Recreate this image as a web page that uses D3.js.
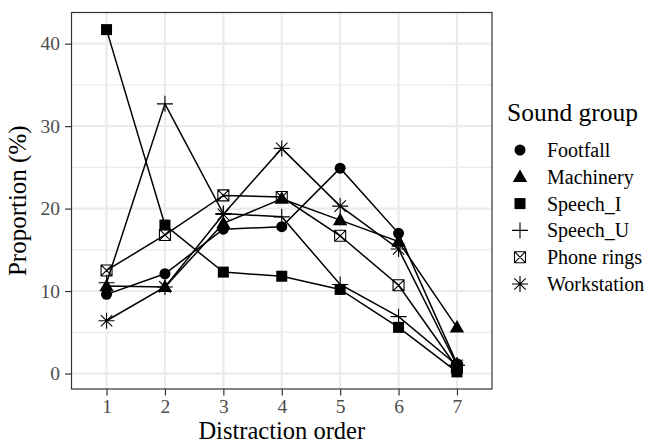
<!DOCTYPE html>
<html>
<head>
<meta charset="utf-8">
<script src="https://cdn.jsdelivr.net/npm/d3@7"></script>
<style>
  body { margin: 0; background: #fff; }
  text { font-family: "Liberation Serif", "Times New Roman", serif; }
</style>
</head>
<body>
<div id="chart"></div>
<script>
// distraction order (x) and the proportion (%) of each sound group
const orders = [1, 2, 3, 4, 5, 6, 7];
const groups = ["Footfall", "Machinery", "Speech_I", "Speech_U", "Phone rings", "Workstation"];
const footfall    = [9.6, 12.1, 17.5, 17.8, 24.9, 17.0, 1.2];
const machinery   = [10.6, 10.5, 18.2, 21.2, 18.6, 16.0, 5.6];
const speechI     = [41.7, 18.0, 12.3, 11.8, 10.2, 5.6, 0.2];
const speechU     = [11.0, 32.7, 19.4, 19.0, 10.8, 6.9, 1.0];
const phoneRings  = [12.5, 16.8, 21.6, 21.4, 16.7, 10.7, 0.7];
const workstation = [6.4, 10.5, 19.3, 27.3, 20.3, 15.1, 1.0];
const yTicks = [0, 10, 20, 30, 40];

const values = [footfall, machinery, speechI, speechU, phoneRings, workstation];
const series = groups.map((g, i) => ({
    name: g,
    points: orders.map((o, j) => ({ x: o, y: values[i][j] }))
}));

const width = 650, height = 444;
const margin = { top: 12.5, right: 158, bottom: 55, left: 71.5 };

const svg = d3.select("#chart").append("svg")
    .attr("width", width)
    .attr("height", height);

const x = d3.scalePoint()
    .domain(orders)
    .range([margin.left, width - margin.right])
    .padding(0.6);

// ggplot-like 5% expansion of the data range
const all = values.flat();
const lo = d3.min(all), hi = d3.max(all), pad = (hi - lo) * 0.05;
const y = d3.scaleLinear()
    .domain([lo - pad, hi + pad])
    .range([height - margin.bottom, margin.top]);

const grid = svg.append("g");
// minor grid
grid.selectAll(".minor")
    .data([5, 15, 25, 35])
    .join("line")
    .attr("x1", margin.left).attr("x2", width - margin.right)
    .attr("y1", d => y(d)).attr("y2", d => y(d))
    .attr("stroke", "#EBEBEB").attr("stroke-width", 1.2);
grid.selectAll(".majorY")
    .data(yTicks)
    .join("line")
    .attr("x1", margin.left).attr("x2", width - margin.right)
    .attr("y1", d => y(d)).attr("y2", d => y(d))
    .attr("stroke", "#EBEBEB").attr("stroke-width", 2.2);
grid.selectAll(".majorX")
    .data(orders)
    .join("line")
    .attr("x1", d => x(d)).attr("x2", d => x(d))
    .attr("y1", margin.top).attr("y2", height - margin.bottom)
    .attr("stroke", "#EBEBEB").attr("stroke-width", 2.2);

// axes
const xAxis = g => g
    .attr("transform", `translate(0,${height - margin.bottom})`)
    .call(d3.axisBottom(x).tickSize(6.4).tickPadding(3.5))
    .call(g => g.select(".domain").remove());
const yAxis = g => g
    .attr("transform", `translate(${margin.left},0)`)
    .call(d3.axisLeft(y).tickValues(yTicks).tickSize(6.4).tickPadding(5))
    .call(g => g.select(".domain").remove());

svg.append("g").call(xAxis);
svg.append("g").call(yAxis);
svg.selectAll(".tick line").attr("stroke", "#333333").attr("stroke-width", 1.2);
svg.selectAll(".tick text")
    .attr("fill", "#4D4D4D")
    .style("font-family", "'Liberation Serif', serif")
    .style("font-size", "19.5px");

// shapes
const sq = 5.5;
const shapeFns = {
    "Footfall": g => g.append("circle").attr("r", 5.5).attr("fill", "black"),
    "Machinery": g => g.append("path").attr("d", d3.symbol(d3.symbolTriangle, 90)()).attr("fill", "black").attr("transform", "translate(0,1)"),
    "Speech_I": g => g.append("rect").attr("x", -sq).attr("y", -sq).attr("width", 2 * sq).attr("height", 2 * sq).attr("fill", "black"),
    "Speech_U": g => g.append("path").attr("d", "M-8,0H8M0,-8V8").attr("stroke", "black").attr("stroke-width", 1.1).attr("fill", "none"),
    "Phone rings": g => g.append("path")
        .attr("d", `M${-sq},${-sq}H${sq}V${sq}H${-sq}ZM${-sq},${-sq}L${sq},${sq}M${sq},${-sq}L${-sq},${sq}`)
        .attr("stroke", "black").attr("stroke-width", 1.1).attr("fill", "none"),
    "Workstation": g => g.append("path")
        .attr("d", "M-8,0H8M0,-8V8M-5.7,-5.7L5.7,5.7M5.7,-5.7L-5.7,5.7")
        .attr("stroke", "black").attr("stroke-width", 1.1).attr("fill", "none")
};

const line = d3.line().x(d => x(d.x)).y(d => y(d.y));

const plot = svg.append("g");
plot.selectAll(".series-line")
    .data(series)
    .join("path")
    .attr("d", d => line(d.points))
    .attr("fill", "none")
    .attr("stroke", "black")
    .attr("stroke-width", 1.5);

series.forEach(s => {
    s.points.forEach(p => {
        const g = plot.append("g").attr("transform", `translate(${x(p.x)},${y(p.y)})`);
        shapeFns[s.name](g);
    });
});

// panel border
svg.append("rect")
    .attr("x", margin.left).attr("y", margin.top)
    .attr("width", width - margin.right - margin.left)
    .attr("height", height - margin.bottom - margin.top)
    .attr("fill", "none")
    .attr("stroke", "#333333")
    .attr("stroke-width", 1.2);

// axis titles
svg.append("text")
    .attr("x", (margin.left + width - margin.right) / 2)
    .attr("y", 439)
    .attr("text-anchor", "middle")
    .style("font-size", "24.5px")
    .text("Distraction order");

svg.append("text")
    .attr("transform", `translate(26,${(margin.top + height - margin.bottom) / 2}) rotate(-90)`)
    .attr("text-anchor", "middle")
    .style("font-size", "25px")
    .text("Proportion (%)");

// legend
const legend = svg.append("g");
legend.append("text")
    .attr("x", 507).attr("y", 121)
    .style("font-size", "25.5px")
    .text("Sound group");

const item = legend.selectAll(".item")
    .data(groups)
    .join("g")
    .attr("transform", (d, i) => `translate(520,${150 + i * 26.8})`);
item.each(function(d) { shapeFns[d](d3.select(this)); });
item.append("text")
    .attr("x", 27).attr("y", 7)
    .style("font-size", "20px")
    .text(d => d);
</script>
</body>
</html>
